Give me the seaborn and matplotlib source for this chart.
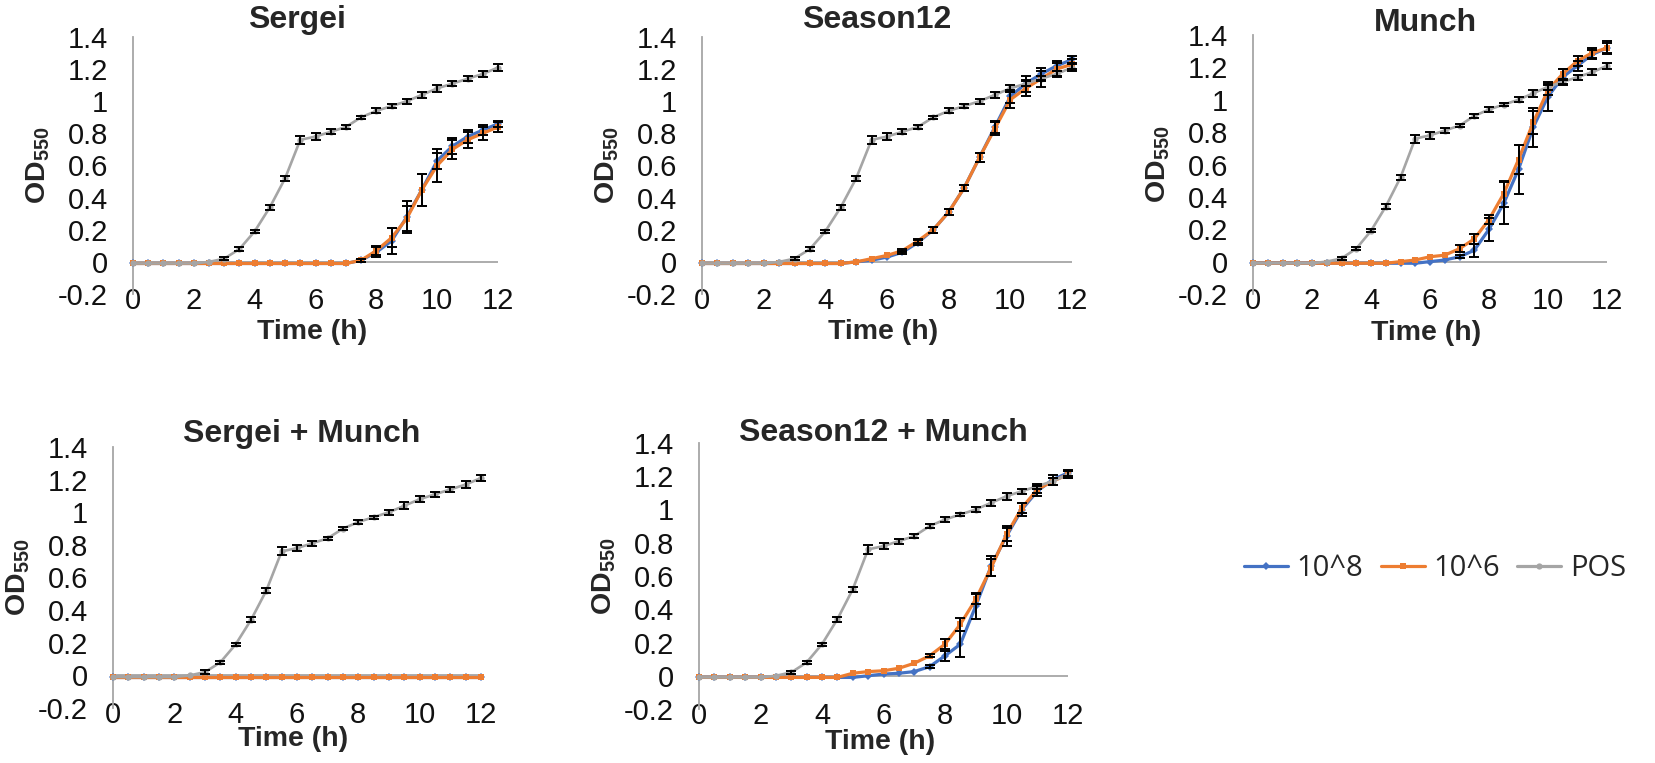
"""
Growth curves (OD550) for phage treatments, five panels + shared legend.
"""

import numpy as np
import pandas as pd
import matplotlib
matplotlib.use("Agg")
import matplotlib.pyplot as plt
from matplotlib.lines import Line2D
import seaborn as sns

# ── Data ──────────────────────────────────────────────────────────────────────

time = [0, 0.5, 1, 1.5, 2, 2.5, 3, 3.5, 4, 4.5, 5, 5.5, 6,
        6.5, 7, 7.5, 8, 8.5, 9, 9.5, 10, 10.5, 11, 11.5, 12]

series_names = ["10^8", "10^6", "POS"]
panel_titles = ["Sergei", "Season12", "Munch", "Sergei + Munch", "Season12 + Munch"]

pos_mean = [-0.01, -0.01, -0.01, -0.01, -0.01, 0.00, 0.02, 0.08, 0.19, 0.34, 0.52, 0.76, 0.78,
            0.81, 0.84, 0.90, 0.94, 0.97, 1.00, 1.04, 1.08, 1.11, 1.14, 1.17, 1.21]
pos_err = [0.0, 0.0, 0.0, 0.0, 0.0, 0.0, 0.01, 0.01, 0.01, 0.015, 0.015, 0.025, 0.02,
           0.015, 0.01, 0.01, 0.015, 0.01, 0.015, 0.02, 0.02, 0.015, 0.015, 0.02, 0.02]

flat = [-0.01] * 25
flat_err = [0.0] * 25

sergei_e8 = [-0.01, -0.01, -0.01, -0.01, -0.01, -0.01, -0.01, -0.01, -0.01, -0.01, -0.01, -0.01, -0.01,
             -0.01, -0.01, 0.01, 0.06, 0.13, 0.28, 0.45, 0.63, 0.72, 0.78, 0.82, 0.86]
sergei_e8_err = [0.0] * 15 + [0.01, 0.03, 0.08, 0.10, 0.10, 0.05, 0.05, 0.04, 0.03, 0.02]
sergei_e6 = [-0.01, -0.01, -0.01, -0.01, -0.01, -0.01, -0.01, -0.01, -0.01, -0.01, -0.01, -0.01, -0.01,
             -0.01, -0.01, 0.01, 0.07, 0.15, 0.27, 0.45, 0.60, 0.70, 0.76, 0.80, 0.84]
sergei_e6_err = [0.0] * 15 + [0.01, 0.03, 0.06, 0.08, 0.10, 0.10, 0.06, 0.05, 0.04, 0.03]

season_e8 = [-0.01, -0.01, -0.01, -0.01, -0.01, -0.01, -0.01, -0.01, -0.01, -0.01, 0.00, 0.01, 0.03,
             0.06, 0.12, 0.20, 0.31, 0.46, 0.65, 0.84, 1.03, 1.11, 1.17, 1.22, 1.26]
season_e8_err = [0.0] * 12 + [0.0, 0.01, 0.015, 0.02, 0.02, 0.02, 0.03, 0.04, 0.04, 0.05, 0.04, 0.03, 0.02]
season_e6 = [-0.01, -0.01, -0.01, -0.01, -0.01, -0.01, -0.01, -0.01, -0.01, -0.01, 0.00, 0.02, 0.04,
             0.07, 0.13, 0.20, 0.31, 0.46, 0.65, 0.83, 1.01, 1.08, 1.14, 1.20, 1.23]
season_e6_err = [0.0] * 12 + [0.0, 0.01, 0.015, 0.02, 0.02, 0.02, 0.03, 0.04, 0.05, 0.05, 0.05, 0.04, 0.03]

munch_e8 = [-0.01, -0.01, -0.01, -0.01, -0.01, -0.01, -0.01, -0.01, -0.01, -0.01, -0.01, -0.01, 0.00,
            0.01, 0.03, 0.07, 0.20, 0.36, 0.57, 0.83, 1.02, 1.14, 1.21, 1.28, 1.32]
munch_e8_err = [0.0] * 14 + [0.01, 0.04, 0.07, 0.13, 0.15, 0.12, 0.09, 0.05, 0.03, 0.03, 0.03]
munch_e6 = [-0.01, -0.01, -0.01, -0.01, -0.01, -0.01, -0.01, -0.01, -0.01, -0.01, 0.00, 0.01, 0.03,
            0.04, 0.08, 0.14, 0.26, 0.42, 0.63, 0.86, 1.06, 1.16, 1.24, 1.29, 1.32]
munch_e6_err = [0.0] * 14 + [0.02, 0.03, 0.03, 0.08, 0.09, 0.07, 0.03, 0.03, 0.03, 0.03, 0.04]

s12m_e8 = [-0.01, -0.01, -0.01, -0.01, -0.01, -0.01, -0.01, -0.01, -0.01, -0.01, -0.01, 0.00, 0.01,
           0.015, 0.025, 0.055, 0.12, 0.19, 0.42, 0.66, 0.84, 1.00, 1.11, 1.18, 1.22]
s12m_e8_err = [0.0] * 15 + [0.01, 0.03, 0.08, 0.08, 0.06, 0.06, 0.04, 0.03, 0.03, 0.02]
s12m_e6 = [-0.01, -0.01, -0.01, -0.01, -0.01, -0.01, -0.01, -0.01, -0.01, -0.01, 0.015, 0.025, 0.03,
           0.045, 0.075, 0.12, 0.19, 0.31, 0.46, 0.65, 0.85, 1.01, 1.12, 1.17, 1.21]
s12m_e6_err = [0.0] * 15 + [0.01, 0.03, 0.04, 0.03, 0.05, 0.04, 0.03, 0.02, 0.02, 0.02]

panel_e8 = [sergei_e8, season_e8, munch_e8, flat, s12m_e8]
panel_e8_err = [sergei_e8_err, season_e8_err, munch_e8_err, flat_err, s12m_e8_err]
panel_e6 = [sergei_e6, season_e6, munch_e6, flat, s12m_e6]
panel_e6_err = [sergei_e6_err, season_e6_err, munch_e6_err, flat_err, s12m_e6_err]

# ── Style ─────────────────────────────────────────────────────────────────────

sns.set_theme(style="white")
plt.rcParams["font.family"] = ["Liberation Sans", "DejaVu Sans"]
plt.rcParams["mathtext.fontset"] = "custom"
plt.rcParams["mathtext.rm"] = "Liberation Sans:bold"
plt.rcParams["mathtext.bf"] = "Liberation Sans:bold"

palette = {"10^8": "#4472C4", "10^6": "#ED7D31", "POS": "#A5A5A5"}
markers = {"10^8": "D", "10^6": "s", "POS": "o"}
axis_gray = "#A6A6A6"

W, H = 1655, 763
fig = plt.figure(figsize=(W / 100, H / 100), dpi=100)

# pixel boxes: (left, right, top, bottom) of each plot area
boxes = [(133, 498, 37, 294), (702, 1072, 37, 294), (1253, 1607, 35, 294),
         (113, 481, 447, 708), (699, 1068, 443, 709)]
title_pos = [(297, 28), (877, 28), (1425, 31), (302, 442), (883, 441)]
xlabel_off = [38, 38, 39, 31, 33]

for i, title in enumerate(panel_titles):
    l, r, t, b = boxes[i]
    ax = fig.add_axes([l / W, 1 - b / H, (r - l) / W, (b - t) / H])

    df = pd.concat([
        pd.DataFrame({"time": time, "od": panel_e8[i], "err": panel_e8_err[i], "series": "10^8"}),
        pd.DataFrame({"time": time, "od": panel_e6[i], "err": panel_e6_err[i], "series": "10^6"}),
        pd.DataFrame({"time": time, "od": pos_mean, "err": pos_err, "series": "POS"}),
    ])

    ax.axhline(0, color=axis_gray, lw=1.3, zorder=1)
    for name in series_names:
        sub = df[df["series"] == name]
        sns.lineplot(data=sub, x="time", y="od", ax=ax, color=palette[name],
                     marker=markers[name], markersize=4.5, markeredgewidth=0,
                     lw=2.3 if name != "POS" else 1.9, clip_on=False, zorder=3,
                     legend=False)
        bars = sub[sub["err"] > 0]
        ax.errorbar(bars["time"], bars["od"], yerr=bars["err"], fmt="none",
                    ecolor="black", elinewidth=1.4, capsize=3.4, capthick=1.4,
                    clip_on=False, zorder=4)

    ax.set_xlim(0, 12)
    ax.set_ylim(-0.2, 1.4)
    ax.set_xticks(np.arange(0, 13, 2))
    yt = np.round(np.arange(-0.2, 1.41, 0.2), 1)
    ax.set_yticks(yt)
    ax.set_yticklabels([f"{v:g}" for v in yt])
    ax.tick_params(axis="both", length=0, labelsize=21, colors="#111111")
    ax.tick_params(axis="y", pad=18)
    ax.tick_params(axis="x", pad=-5)
    for s in ["top", "right", "bottom"]:
        ax.spines[s].set_visible(False)
    ax.spines["left"].set_color(axis_gray)
    ax.spines["left"].set_linewidth(1.3)
    ax.set_xlabel("")
    ax.set_ylabel("")

    wpx, hpx = r - l, b - t
    ax.text(-95 / wpx, 0.5, r"OD$_{550}$", transform=ax.transAxes, rotation=90,
            ha="center", va="center", fontsize=20.5, fontweight="bold")
    ax.text(0.49, -xlabel_off[i] / hpx, "Time (h)", transform=ax.transAxes,
            ha="center", va="center", fontsize=20.5, fontweight="bold")

    tx, ty = title_pos[i]
    fig.text(tx / W, 1 - ty / H, title, ha="center", va="baseline",
             fontsize=23, fontweight="bold")

handles = [Line2D([0], [0], color=palette[n], lw=2.3, marker=markers[n],
                  markersize=4.5, markeredgewidth=0) for n in series_names]
fig.legend(handles, series_names, loc="center", bbox_to_anchor=(1435 / W, 1 - 569 / H),
           ncol=3, frameon=False, handlelength=1.5, handletextpad=0.3,
           columnspacing=0.6, prop={"family": "Open Sans", "size": 21})

fig.savefig("out.png", dpi=100)
plt.close(fig)
